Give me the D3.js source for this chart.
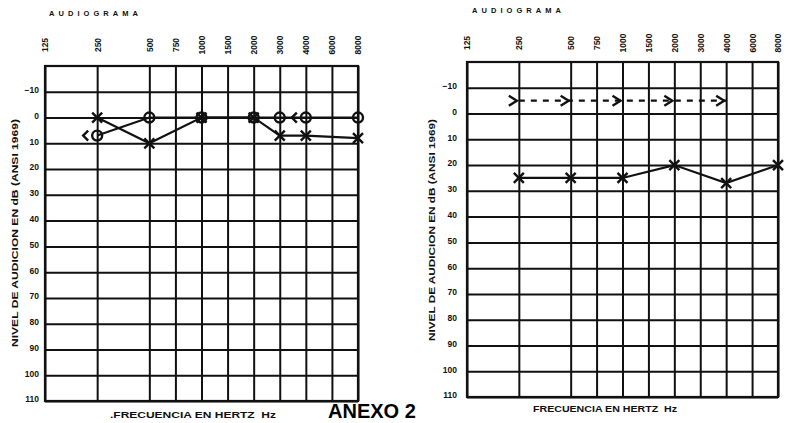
<!DOCTYPE html>
<html>
<head>
<meta charset="utf-8">
<script src="https://cdn.jsdelivr.net/npm/d3@7"></script>
<style>
  body { margin: 0; background: #fff; }
  svg { display: block; }
  text { font-family: "Liberation Sans", Arial, sans-serif; font-weight: bold; fill: #111; }
</style>
</head>
<body>
<div id="chart"></div>
<script>
// tick labels
const freqTicks = [125, 250, 500, 750, 1000, 1500, 2000, 3000, 4000, 6000, 8000];
const dbTicks = [-10, 0, 10, 20, 30, 40, 50, 60, 70, 80, 90, 100, 110];

// left audiogram
const leftFreqs = [250, 500, 1000, 2000, 3000, 4000, 8000];
const leftCircle = [7, 0, 0, 0, 0, 0, 0];
const leftCross = [0, 10, 0, 0, 7, 7, 8];
const leftBoneFreqs = [250, 4000];
const leftBone = [7, 0];

// right audiogram
const rightFreqs = [250, 500, 1000, 2000, 4000, 8000];
const rightCross = [25, 25, 25, 20, 27, 20];
const rightBoneFreqs = [250, 500, 1000, 2000, 4000];
const rightBone = [-5, -5, -5, -5, -5];

const W = 789, H = 423;
const ink = '#111';

const svg = d3.select('#chart').append('svg')
  .attr('width', W)
  .attr('height', H);

// octaves above 125 Hz, half-octave frequencies sit in the middle of the cell
const octave = f => Math.round(2 * Math.log2(f / 125)) / 2;

function drawPanel(p) {
  const x = d3.scaleLinear().domain([0, 6]).range([p.left, p.right]);
  const y = d3.scaleLinear().domain([-20, 110]).range([p.top, p.bottom]);
  const g = svg.append('g');

  // horizontal grid + dB labels
  const yAxis = g.append('g')
    .attr('transform', `translate(${p.left},0)`)
    .call(d3.axisLeft(y).tickValues(dbTicks).tickSize(-(p.right - p.left)).tickPadding(6).tickFormat(d3.format('d')));
  yAxis.select('.domain').remove();
  yAxis.selectAll('line').attr('stroke', ink).attr('stroke-width', 2);
  yAxis.selectAll('text')
    .attr('font-size', 8.5)
    .attr('dy', '0.1em')
    .attr('x', -(p.left - p.labelX));

  // vertical grid + frequency labels
  const xAxis = g.append('g')
    .attr('transform', `translate(0,${p.top})`)
    .call(d3.axisTop(x).tickValues(freqTicks.map(octave)).tickSize(-(p.bottom - p.top))
      .tickFormat((d, i) => String(freqTicks[i])));
  xAxis.select('.domain').remove();
  xAxis.selectAll('line').attr('stroke', ink).attr('stroke-width', 2);
  xAxis.selectAll('text')
    .attr('font-size', 8.5)
    .attr('text-anchor', 'middle')
    .attr('y', 0)
    .attr('dy', '0.35em')
    .attr('transform', `translate(0,${p.tickY - p.top}) rotate(-90)`);

  // frame
  g.append('rect')
    .attr('x', p.left).attr('y', p.top)
    .attr('width', p.right - p.left).attr('height', p.bottom - p.top)
    .attr('fill', 'none').attr('stroke', ink).attr('stroke-width', 2.2);

  // titles
  g.append('text')
    .attr('x', p.titleX).attr('y', p.titleY)
    .attr('font-size', 7.5)
    .attr('textLength', 89).attr('lengthAdjust', 'spacing')
    .text('AUDIOGRAMA');

  g.append('text')
    .attr('transform', `translate(${p.yTitleX},${p.yTitleY}) rotate(-90)`)
    .attr('text-anchor', 'middle')
    .attr('font-size', 8.5)
    .attr('textLength', p.yTitleLen).attr('lengthAdjust', 'spacingAndGlyphs')
    .text('NIVEL DE AUDICION EN dB (ANSI 1969)');

  g.append('text')
    .attr('x', p.xTitleX).attr('y', p.xTitleY)
    .attr('font-size', 8.5)
    .attr('textLength', p.xTitleLen).attr('lengthAdjust', 'spacingAndGlyphs')
    .attr('xml:space', 'preserve')
    .text(p.xTitle);

  // series
  const line = d3.line().x(d => x(octave(d[0]))).y(d => y(d[1]));
  p.series.forEach(s => {
    const pts = s.freqs.map((f, i) => [f, s.values[i]]);
    if (s.line) {
      g.append('path')
        .attr('d', line(pts))
        .attr('fill', 'none')
        .attr('stroke', ink)
        .attr('stroke-width', 2.2)
        .attr('stroke-dasharray', s.dash || null);
    }
    const m = g.append('g').selectAll('path').data(pts).join('path')
      .attr('fill', 'none')
      .attr('stroke', ink)
      .attr('stroke-width', 2.4)
      .attr('stroke-linejoin', 'miter');
    if (s.marker === 'circle') {
      m.attr('d', d => {
        const cx = x(octave(d[0])), cy = y(d[1]);
        const pa = d3.path(); pa.moveTo(cx + 5, cy); pa.arc(cx, cy, 5, 0, 2 * Math.PI); return pa.toString();
      });
    } else if (s.marker === 'cross') {
      m.attr('d', d => {
        const cx = x(octave(d[0])), cy = y(d[1]), r = 5;
        return `M${cx - r},${cy - r}L${cx + r},${cy + r}M${cx - r},${cy + r}L${cx + r},${cy - r}`;
      });
    } else if (s.marker === 'lt') {
      m.attr('d', d => {
        const cx = x(octave(d[0])) - 14, cy = y(d[1]);
        return `M${cx + 5},${cy - 5}L${cx},${cy}L${cx + 5},${cy + 5}`;
      });
    } else if (s.marker === 'gt') {
      m.attr('d', d => {
        const cx = x(octave(d[0])) - 2, cy = y(d[1]);
        return `M${cx - 8},${cy - 5}L${cx},${cy}L${cx - 8},${cy + 5}`;
      });
    }
  });
}

drawPanel({
  left: 45, right: 358, top: 66, bottom: 401,
  labelX: 39, tickY: 45,
  titleX: 49, titleY: 16,
  yTitleX: 18, yTitleY: 233, yTitleLen: 228,
  xTitleX: 110, xTitleY: 418, xTitleLen: 166, xTitle: '.FRECUENCIA EN HERTZ  Hz',
  series: [
    { freqs: leftFreqs, values: leftCircle, marker: 'circle', line: true },
    { freqs: leftFreqs, values: leftCross, marker: 'cross', line: true },
    { freqs: leftBoneFreqs, values: leftBone, marker: 'lt', line: false }
  ]
});

drawPanel({
  left: 467, right: 778, top: 62, bottom: 397,
  labelX: 457, tickY: 43,
  titleX: 472, titleY: 13,
  yTitleX: 435, yTitleY: 230, yTitleLen: 222,
  xTitleX: 533, xTitleY: 412, xTitleLen: 144, xTitle: 'FRECUENCIA EN HERTZ  Hz',
  series: [
    { freqs: rightBoneFreqs, values: rightBone, marker: 'gt', line: true, dash: '6,6' },
    { freqs: rightFreqs, values: rightCross, marker: 'cross', line: true }
  ]
});

svg.append('text')
  .attr('x', 328).attr('y', 418)
  .attr('font-size', 20)
  .style('fill', '#000')
  .text('ANEXO 2');
</script>
</body>
</html>
